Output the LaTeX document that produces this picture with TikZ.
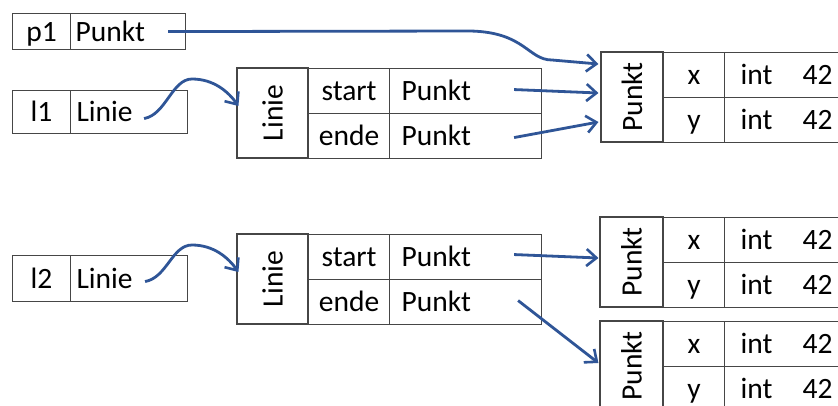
\documentclass[tikz,border=0pt]{standalone}
\usepackage{fontspec}
\usepackage{graphicx}
\setmainfont{Carlito}
\usetikzlibrary{arrows.meta,calc}
\definecolor{boxline}{RGB}{70,70,70}
\definecolor{arrowblue}{RGB}{47,85,151}
\begin{document}
\begin{tikzpicture}[x=1pt,y=-1pt,
  every node/.style={font=\fontsize{29.5}{34}\selectfont},
  cell/.style={draw=boxline, line width=1.1pt, inner sep=0pt, text height=25pt, text depth=6pt, anchor=north west},
  lcell/.style={cell, align=left},
  rcell/.style={draw=boxline, line width=1.1pt, inner sep=0pt},
  ptr/.style={draw=arrowblue, line width=2.8pt, -{Straight Barb[length=10pt,width=17pt,line width=2.6pt]}}
]
\useasboundingbox (0,0) rectangle (838,405);
\clip (0,0) rectangle (838,405);
\fill[white] (0,0) rectangle (838,405);

% p1
\node[cell, minimum width=58pt, minimum height=36pt] (p1name) at (12,13) {p1};
\node[lcell, minimum height=36pt, inner xsep=5pt, text width=105pt] (p1val) at (70,13) {Punkt};
% l1
\node[cell, minimum width=58pt, minimum height=43pt] (l1name) at (12,90) {l1};
\node[lcell, minimum height=43pt, inner xsep=6pt, text width=105pt] (l1val) at (70,90) {Linie};
% Linie top
\node[rcell, minimum height=90pt, minimum width=71pt] (lin1) at (272.5,113) {\rotatebox{90}{Linie}};
\node[cell, minimum width=81pt, minimum height=45pt] (lin1s) at (308,68) {start};
\node[lcell, minimum height=45pt, inner xsep=12pt, text width=128pt] (lin1sv) at (389,68) {Punkt};
\node[cell, minimum width=81pt, minimum height=45pt] (lin1e) at (308,113) {ende};
\node[lcell, minimum height=45pt, inner xsep=12pt, text width=128pt] (lin1ev) at (389,113) {Punkt};
% Punkt top
\node[rcell, minimum height=90pt, minimum width=62pt] (pt1) at (632,97) {\rotatebox{90}{Punkt}};
\node[cell, minimum width=61pt, minimum height=45pt] (pt1x) at (663,52) {x};
\node[lcell, minimum height=45pt, inner xsep=16pt, text width=92pt] (pt1xv) at (724,52) {int\hfill 42};
\node[cell, minimum width=61pt, minimum height=45pt] (pt1y) at (663,97) {y};
\node[lcell, minimum height=45pt, inner xsep=16pt, text width=92pt] (pt1yv) at (724,97) {int\hfill 42};

% l2
\node[cell, minimum width=58pt, minimum height=46pt] (l2name) at (12,255) {l2};
\node[lcell, minimum height=46pt, inner xsep=6pt, text width=105pt] (l2val) at (70,255) {Linie};
% Linie bottom
\node[rcell, minimum height=90pt, minimum width=71pt] (lin2) at (272.5,279) {\rotatebox{90}{Linie}};
\node[cell, minimum width=81pt, minimum height=45pt] (lin2s) at (308,234) {start};
\node[lcell, minimum height=45pt, inner xsep=12pt, text width=128pt] (lin2sv) at (389,234) {Punkt};
\node[cell, minimum width=81pt, minimum height=45pt] (lin2e) at (308,279) {ende};
\node[lcell, minimum height=45pt, inner xsep=12pt, text width=128pt] (lin2ev) at (389,279) {Punkt};
% Punkt bottom 1
\node[rcell, minimum height=90pt, minimum width=63pt] (pb1) at (631.5,262) {\rotatebox{90}{Punkt}};
\node[cell, minimum width=61pt, minimum height=45pt] (pb1x) at (663,217) {x};
\node[lcell, minimum height=45pt, inner xsep=16pt, text width=92pt] (pb1xv) at (724,217) {int\hfill 42};
\node[cell, minimum width=61pt, minimum height=45pt] (pb1y) at (663,262) {y};
\node[lcell, minimum height=45pt, inner xsep=16pt, text width=92pt] (pb1yv) at (724,262) {int\hfill 42};
% Punkt bottom 2
\node[rcell, minimum height=90pt, minimum width=63pt] (pb2) at (631.5,366) {\rotatebox{90}{Punkt}};
\node[cell, minimum width=61pt, minimum height=45pt] (pb2x) at (663,321) {x};
\node[lcell, minimum height=45pt, inner xsep=16pt, text width=92pt] (pb2xv) at (724,321) {int\hfill 42};
\node[cell, minimum width=61pt, minimum height=45pt] (pb2y) at (663,366) {y};
\node[lcell, minimum height=45pt, inner xsep=16pt, text width=92pt] (pb2yv) at (724,366) {int\hfill 42};

% connectors
\coordinate (a1s) at ($(p1val.east)+(-18,0)$);
\coordinate (a1e) at ($(pt1.west)+(-2,-33)$);
\draw[ptr] (a1s) -- (470,31) .. controls (525,32) and (528,60) .. (552,60) -- (a1e);

\coordinate (a2s) at ($(l1val.east)+(-44,6.5)$);
\coordinate (a2e) at ($(lin1.west)+(2,-7)$);
\draw[ptr] (a2s) .. controls +(22,-4) and +(-20,0) .. (192,79) .. controls +(22,0) and +(-10,-14) .. (a2e);

\draw[ptr] ($(lin1sv.east)+(-28,-1.5)$) -- ($(pt1.west)+(-2,-4)$);
\draw[ptr] ($(lin1ev.east)+(-28,1.5)$) -- ($(pt1.west)+(-2,25)$);

\coordinate (a5s) at ($(l2val.east)+(-43,3)$);
\coordinate (a5e) at ($(lin2.west)+(2,-7)$);
\draw[ptr] (a5s) .. controls +(22,-4) and +(-20,0) .. (192,245) .. controls +(22,0) and +(-10,-14) .. (a5e);

\draw[ptr] ($(lin2sv.east)+(-28,-2.5)$) -- ($(pb1.west)+(-1,-4)$);
\draw[ptr] ($(lin2ev.east)+(-24,-1.5)$) -- ($(pb2.west)+(-1,-3)$);
\end{tikzpicture}
\end{document}
